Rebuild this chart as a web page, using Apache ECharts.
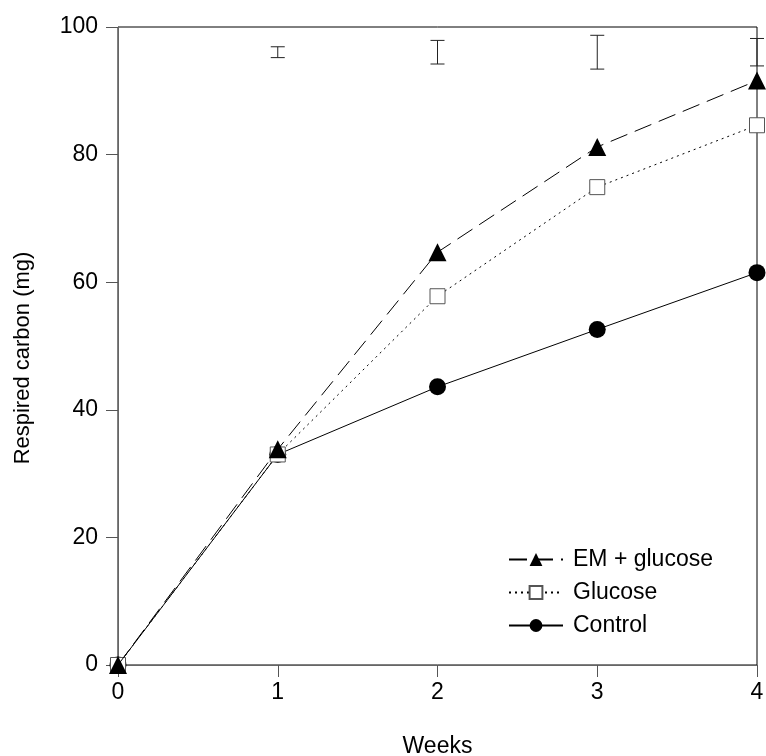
<!DOCTYPE html>
<html>
<head>
<meta charset="utf-8">
<script src="https://cdn.jsdelivr.net/npm/echarts@6/dist/echarts.min.js"></script>
<style>
  html, body { margin: 0; padding: 0; background: #fff; }
  #main { width: 766px; height: 756px; }
</style>
</head>
<body>
<div id="main"></div>
<script>
var weeks = [0, 1, 2, 3, 4];
var emGlucose = [0, 33.8, 64.7, 81.2, 91.6];
var glucose = [0, 33, 57.8, 74.9, 84.6];
var control = [0, 33, 43.6, 52.6, 61.5];
// error bars shown at the top: [week, low, high]
var barWeeks = [1, 2, 3, 4];
var barLow = [95.2, 94.2, 93.4, 93.9];
var barHigh = [96.9, 97.9, 98.7, 98.2];

function pairs(ys) {
  return weeks.map(function (w, i) { return [w, ys[i]]; });
}
var errData = barWeeks.map(function (w, i) { return [w, barLow[i], barHigh[i]]; });

var chartDom = document.getElementById('main');
var myChart = echarts.init(chartDom);
var option;

var font = 'Liberation Sans, Arial, sans-serif';

option = {
  animation: false,
  grid: {
    left: 118,
    right: 9,
    top: 27,
    bottom: 91,
    outerBoundsMode: 'none',
    show: true,
    borderColor: '#000',
    borderWidth: 1
  },
  legend: {
    orient: 'vertical',
    left: 503,
    top: 543,
    itemWidth: 54,
    itemHeight: 16,
    itemGap: 10,
    textStyle: { fontFamily: font, fontSize: 23, color: '#000', padding: [0, 0, 0, 5] },
    data: ['EM + glucose', 'Glucose', 'Control']
  },
  xAxis: {
    type: 'value',
    min: 0,
    max: 4,
    interval: 1,
    name: 'Weeks',
    nameLocation: 'middle',
    nameGap: 70,
    nameTextStyle: { fontFamily: font, fontSize: 23, color: '#000' },
    axisLine: { lineStyle: { color: '#666', width: 1 } },
    axisTick: { show: true, inside: false, length: 12, lineStyle: { color: '#555' } },
    axisLabel: { margin: 16, fontFamily: font, fontSize: 23, color: '#000' },
    splitLine: { show: false }
  },
  yAxis: {
    type: 'value',
    min: 0,
    max: 100,
    interval: 20,
    name: 'Respired carbon (mg)',
    nameLocation: 'middle',
    nameGap: 84,
    nameTextStyle: { fontFamily: font, fontSize: 22, color: '#000', padding: [0, 24, 0, 0] },
    axisLine: { show: true, lineStyle: { color: '#666', width: 1 } },
    axisTick: { show: true, inside: false, length: 12, lineStyle: { color: '#555' } },
    axisLabel: { margin: 20, fontFamily: font, fontSize: 23, color: '#000' },
    splitLine: { show: false }
  },
  series: [
    {
      name: 'Control',
      type: 'line',
      data: pairs(control),
      symbol: 'circle',
      symbolSize: 17,
      clip: false,
      itemStyle: { color: '#000' },
      lineStyle: { color: '#000', width: 1, type: 'solid' },
      z: 3
    },
    {
      name: 'Glucose',
      type: 'line',
      data: pairs(glucose),
      symbol: 'rect',
      symbolSize: 15,
      clip: false,
      itemStyle: { color: '#fff', borderColor: '#555', borderWidth: 1 },
      lineStyle: { color: '#000', width: 1, type: [2, 4] },
      z: 4
    },
    {
      name: 'EM + glucose',
      type: 'line',
      data: pairs(emGlucose),
      symbol: 'triangle',
      symbolSize: 18,
      clip: false,
      itemStyle: { color: '#000' },
      lineStyle: { color: '#000', width: 1, type: [18, 8] },
      z: 5
    },
    {
      name: 'errors',
      type: 'custom',
      data: errData,
      clip: false,
      renderItem: function (params, api) {
        var x = api.value(0);
        var lo = api.coord([x, api.value(1)]);
        var hi = api.coord([x, api.value(2)]);
        var half = 7;
        var st = { stroke: '#222', lineWidth: 1 };
        return {
          type: 'group',
          children: [
            { type: 'line', shape: { x1: lo[0], y1: lo[1], x2: hi[0], y2: hi[1] }, style: st },
            { type: 'line', shape: { x1: lo[0] - half, y1: lo[1], x2: lo[0] + half, y2: lo[1] }, style: st },
            { type: 'line', shape: { x1: hi[0] - half, y1: hi[1], x2: hi[0] + half, y2: hi[1] }, style: st }
          ]
        };
      },
      z: 6
    }
  ]
};

option && myChart.setOption(option);
window.addEventListener('resize', function () {
  myChart.resize();
});
</script>
</body>
</html>
